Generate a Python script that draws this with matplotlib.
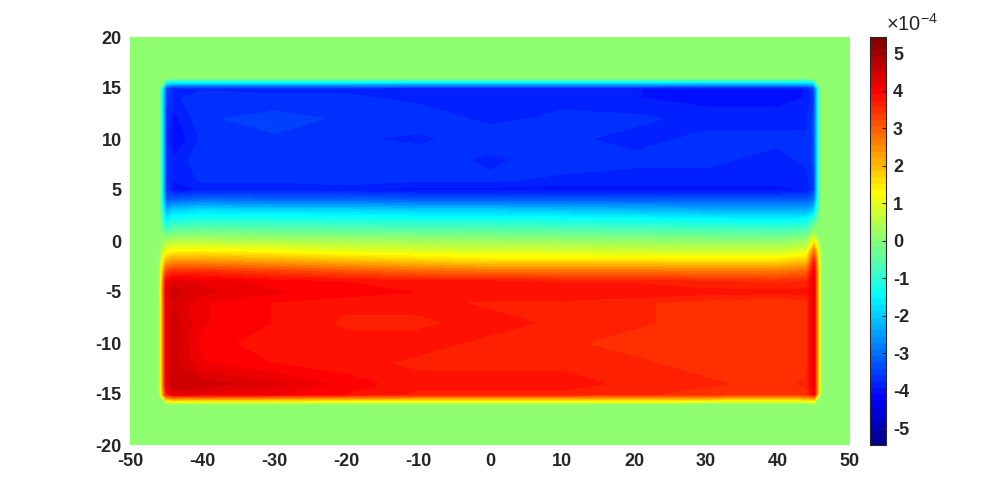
import numpy as np
import matplotlib
matplotlib.use("Agg")
import matplotlib.pyplot as plt
from matplotlib.colors import ListedColormap

# grid nodes (x across, y up)
x_nodes = [-50, -46, -45, -44, -40, -30, -20, -10, 0, 10, 20, 30, 40, 44, 45, 46, 50]
y_nodes = [-20, -16, -15, -14, -12, -10, -8, -6, -5, -4, -3, -2, -1, 0,
           1, 2, 3, 4, 5, 6, 8, 10, 12, 14, 15, 16, 20]

# inner values (units of 1e-4), columns x = -45 ... 45, rows y = -15 ... 15
inner_rows = {
    -15: [3.6, 4.3, 4.2, 4.1, 3.9, 3.7, 3.7, 3.7, 3.6, 3.5, 3.4, 3.5, 4.0],
    -14: [4.1, 4.6, 4.5, 4.3, 4.0, 3.8, 3.8, 3.8, 3.7, 3.6, 3.5, 3.6, 4.2],
    -12: [4.1, 4.5, 4.1, 3.9, 3.8, 3.7, 3.7, 3.7, 3.6, 3.5, 3.4, 3.5, 4.2],
    -10: [4.1, 4.5, 4.0, 3.8, 3.8, 3.8, 3.7, 3.6, 3.5, 3.4, 3.4, 3.5, 4.2],
    -8:  [4.1, 4.5, 4.1, 3.9, 3.7, 3.7, 3.8, 3.7, 3.6, 3.5, 3.4, 3.5, 4.2],
    -6:  [4.1, 4.4, 4.1, 3.9, 3.8, 3.8, 3.7, 3.7, 3.6, 3.5, 3.4, 3.5, 4.2],
    -5:  [4.2, 4.5, 4.3, 4.1, 4.0, 3.9, 3.9, 3.9, 3.9, 3.8, 3.8, 3.8, 4.2],
    -4:  [4.0, 4.3, 4.2, 4.0, 3.9, 3.8, 3.8, 3.7, 3.7, 3.6, 3.5, 3.6, 4.2],
    -3:  [3.2, 3.5, 3.5, 3.3, 3.1, 2.9, 2.8, 2.8, 2.8, 2.7, 2.7, 2.9, 4.1],
    -2:  [2.1, 2.4, 2.4, 2.2, 2.0, 1.8, 1.6, 1.6, 1.6, 1.6, 1.6, 1.9, 3.6],
    -1:  [1.1, 1.3, 1.35, 1.2, 1.0, 0.9, 0.8, 0.8, 0.75, 0.7, 0.7, 0.9, 2.7],
    0:   [0.3, 0.4, 0.4, 0.35, 0.3, 0.25, 0.2, 0.15, 0.1, 0.05, 0.05, 0.2, 1.2],
    1:   [-0.7, -0.4, -0.3, -0.4, -0.45, -0.5, -0.5, -0.55, -0.6, -0.65, -0.7, -0.6, 0.0],
    2:   [-1.6, -1.2, -1.1, -1.1, -1.15, -1.2, -1.2, -1.25, -1.3, -1.4, -1.45, -1.4, -0.8],
    3:   [-2.4, -2.0, -1.8, -1.9, -1.9, -2.0, -2.0, -2.1, -2.2, -2.3, -2.3, -2.3, -2.0],
    4:   [-3.2, -3.2, -3.0, -3.1, -3.1, -3.2, -3.2, -3.2, -3.2, -3.2, -3.2, -3.2, -3.0],
    5:   [-3.6, -4.0, -3.9, -3.9, -3.9, -4.0, -4.0, -4.0, -4.0, -4.0, -4.0, -3.9, -3.6],
    6:   [-3.6, -3.9, -3.7, -3.7, -3.6, -3.7, -3.7, -3.8, -3.8, -3.8, -3.8, -3.8, -3.6],
    8:   [-3.6, -3.9, -3.6, -3.6, -3.7, -3.6, -3.8, -3.6, -3.7, -3.7, -3.8, -3.7, -3.5],
    10:  [-3.7, -4.1, -3.7, -3.6, -3.7, -3.8, -3.6, -3.7, -3.8, -3.7, -3.7, -3.7, -3.5],
    12:  [-3.6, -4.0, -3.6, -3.5, -3.6, -3.6, -3.8, -3.7, -3.7, -3.8, -3.8, -3.8, -3.5],
    14:  [-3.5, -3.8, -3.6, -3.7, -3.7, -3.8, -3.8, -3.8, -3.9, -4.0, -4.0, -3.9, -3.6],
    15:  [-3.4, -3.8, -3.8, -3.8, -3.8, -3.9, -3.9, -3.9, -3.9, -4.0, -4.0, -3.9, -3.5],
}
outside_value = 0.0
scale = 1e-4
clim = 5.44e-4
cbar_ticks = [-5, -4, -3, -2, -1, 0, 1, 2, 3, 4, 5]
x_ticks = [-50, -40, -30, -20, -10, 0, 10, 20, 30, 40, 50]
y_ticks = [-20, -15, -10, -5, 0, 5, 10, 15, 20]

# assemble full matrix (zero border outside the rectangle)
Z = np.full((len(y_nodes), len(x_nodes)), outside_value)
for yv, row in inner_rows.items():
    i = y_nodes.index(yv)
    Z[i, 2:2 + len(row)] = row
Z = Z * scale

# MATLAB-style jet(64) colormap
n, m = 64, 16
u = np.concatenate([np.arange(1, 17) / 16, np.ones(15), np.arange(16, 0, -1) / 16])
g = 8 + np.arange(1, len(u) + 1)
r = g + m
b = g - m
J = np.zeros((n, 3))
J[r[r <= n] - 1, 0] = u[r <= n]
J[g - 1, 1] = u
J[b[b >= 1] - 1, 2] = u[b >= 1]
cmap = ListedColormap(J)

plt.rcParams['font.family'] = ['Liberation Sans', 'DejaVu Sans']
plt.rcParams['axes.unicode_minus'] = False
plt.rcParams['mathtext.fontset'] = 'custom'
plt.rcParams['mathtext.rm'] = 'Liberation Sans'

fig = plt.figure(figsize=(10, 5), dpi=100)
ax = fig.add_axes([0.13, 0.11, 0.72, 0.816])
cax = fig.add_axes([0.870, 0.11, 0.016, 0.816])

levels = np.linspace(-clim, clim, n + 1) - 1e-12
X, Y = np.meshgrid(x_nodes, y_nodes)
cs = ax.contourf(X, Y, Z, levels=levels, cmap=cmap, vmin=-clim, vmax=clim)
cs.set_edgecolor('face')
cs.set_linewidth(0.4)

ax.set_xlim(-50, 50)
ax.set_ylim(-20, 20)
ax.set_xticks(x_ticks)
ax.set_yticks(y_ticks)
for s in ax.spines.values():
    s.set_visible(False)
ax.tick_params(length=0, labelsize=13, colors='#262626', pad=6)
for lab in ax.get_xticklabels() + ax.get_yticklabels():
    lab.set_fontweight('bold')

cb = fig.colorbar(cs, cax=cax)
cb.set_ticks([t * scale for t in cbar_ticks])
cb.set_ticklabels([str(t) for t in cbar_ticks])
cax.set_ylim(-clim, clim)
cax.tick_params(direction='in', length=3, width=0.8, labelsize=13,
                colors='#262626', pad=5)
for lab in cax.get_yticklabels():
    lab.set_fontweight('bold')
cb.outline.set_linewidth(0.8)
cb.outline.set_edgecolor('#262626')
cax.text(1.0, 1.005, r'$\times\mathregular{10^{-4}}$', transform=cax.transAxes,
         ha='left', va='bottom', fontsize=14.5, color='#262626')

fig.savefig('out.png', dpi=100)
